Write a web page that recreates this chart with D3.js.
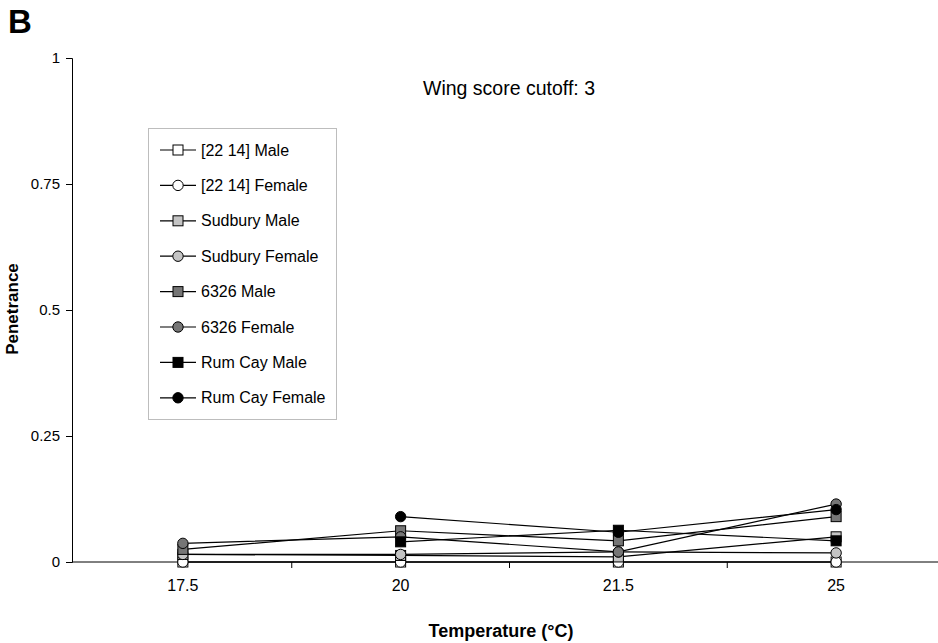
<!DOCTYPE html>
<html>
<head>
<meta charset="utf-8">
<script src="https://cdn.jsdelivr.net/npm/d3@7"></script>
<style>
  html, body { margin: 0; padding: 0; background: #fff; }
  svg { display: block; font-family: "Liberation Sans", Arial, sans-serif; }
</style>
</head>
<body>
<svg id="chart" width="938" height="643"></svg>
<script>
// Temperature categories and penetrance per line/sex (null = not measured)
const temps = ["17.5", "20", "21.5", "25"];
const male2214     = [0, 0, 0, 0];
const female2214   = [0, 0, 0, 0];
const sudburyMale  = [0.015, 0.013, 0.01, 0.05];
const sudburyFemale= [0.015, 0.015, 0.02, 0.018];
const male6326     = [0.025, 0.062, 0.042, 0.09];
const female6326   = [0.037, 0.05, 0.02, 0.115];
const rumCayMale   = [null, 0.04, 0.063, 0.042];
const rumCayFemale = [null, 0.09, 0.059, 0.104];
const yTicks = [0, 0.25, 0.5, 0.75, 1];
const yTickLabels = ["0", "0.25", "0.5", "0.75", "1"];

const series = [
  { name: "[22 14] Male",     values: male2214,      shape: "square", fill: "#ffffff" },
  { name: "[22 14] Female",   values: female2214,    shape: "circle", fill: "#ffffff" },
  { name: "Sudbury Male",     values: sudburyMale,   shape: "square", fill: "#c4c4c4" },
  { name: "Sudbury Female",   values: sudburyFemale, shape: "circle", fill: "#c4c4c4" },
  { name: "6326 Male",        values: male6326,      shape: "square", fill: "#767676" },
  { name: "6326 Female",      values: female6326,    shape: "circle", fill: "#767676" },
  { name: "Rum Cay Male",     values: rumCayMale,    shape: "square", fill: "#000000" },
  { name: "Rum Cay Female",   values: rumCayFemale,  shape: "circle", fill: "#000000" }
];

const svg = d3.select("#chart");
const axisLeftX = 72;
const x = d3.scaleBand().domain(temps).range([74, 945]);
const y = d3.scaleLinear().domain([0, 1]).range([562, 58]);

function drawMarker(g, shape, fill) {
  if (shape === "square") {
    g.append("rect").attr("x", -5).attr("y", -5).attr("width", 10).attr("height", 10)
      .attr("fill", fill).attr("stroke", "#000").attr("stroke-width", 1);
  } else {
    g.append("circle").attr("r", 5.2)
      .attr("fill", fill).attr("stroke", "#000").attr("stroke-width", 1);
  }
}

// Panel letter
svg.append("text").attr("x", 8).attr("y", 33)
  .attr("font-size", 33).attr("font-weight", "bold").text("B");

// Y axis
const yAxis = svg.append("g").attr("transform", `translate(${axisLeftX},0)`)
  .call(d3.axisLeft(y).tickValues(yTicks)
    .tickFormat((d, i) => yTickLabels[i]).tickSize(6).tickPadding(6));
yAxis.select(".domain").attr("stroke", "#000");
yAxis.selectAll(".tick line").attr("stroke", "#000");
yAxis.selectAll(".tick text").attr("font-size", 15).attr("fill", "#000")
  .attr("font-family", "Liberation Sans, Arial, sans-serif");

// X axis: category labels at band centres, ticks at band boundaries
const xAxisG = svg.append("g");
xAxisG.append("line").attr("x1", axisLeftX).attr("x2", 945)
  .attr("y1", y(0)).attr("y2", y(0)).attr("stroke", "#000");
const boundaries = temps.slice(1).map(t => x(t));
xAxisG.selectAll("line.tick").data(boundaries).enter().append("line")
  .attr("class", "tick")
  .attr("x1", d => d).attr("x2", d => d)
  .attr("y1", y(0)).attr("y2", y(0) + 6).attr("stroke", "#000");
xAxisG.selectAll("text").data(temps).enter().append("text")
  .attr("x", d => x(d) + x.bandwidth() / 2).attr("y", 591)
  .attr("text-anchor", "middle").attr("font-size", 16).text(d => d);

// Axis titles
svg.append("text").attr("x", 501).attr("y", 637).attr("text-anchor", "middle")
  .attr("font-size", 18).attr("font-weight", "bold").text("Temperature (°C)");
svg.append("text").attr("transform", "translate(18,309) rotate(-90)")
  .attr("text-anchor", "middle").attr("font-size", 17).attr("font-weight", "bold")
  .text("Penetrance");

// Annotation
svg.append("text").attr("x", 509).attr("y", 95).attr("text-anchor", "middle")
  .attr("font-size", 19.5).text("Wing score cutoff: 3");

// Series lines and markers
const cx = t => x(t) + x.bandwidth() / 2;
const line = d3.line()
  .defined(d => d.v !== null)
  .x(d => cx(d.t)).y(d => y(d.v));

series.forEach(s => {
  const pts = temps.map((t, i) => ({ t, v: s.values[i] }));
  svg.append("path").datum(pts).attr("d", line)
    .attr("fill", "none").attr("stroke", "#000").attr("stroke-width", 1.2);
});
series.forEach(s => {
  temps.forEach((t, i) => {
    const v = s.values[i];
    if (v === null) return;
    const g = svg.append("g").attr("transform", `translate(${cx(t)},${y(v)})`);
    drawMarker(g, s.shape, s.fill);
  });
});

// Legend
const legend = svg.append("g");
legend.append("rect").attr("x", 148.5).attr("y", 128.5).attr("width", 188).attr("height", 291)
  .attr("fill", "#fff").attr("stroke", "#bdbdbd").attr("stroke-width", 1);
series.forEach((s, i) => {
  const ly = 150 + i * 35.4;
  const row = legend.append("g").attr("transform", `translate(0,${ly})`);
  row.append("line").attr("x1", 160).attr("x2", 196).attr("y1", 0).attr("y2", 0)
    .attr("stroke", "#000").attr("stroke-width", 1.2);
  drawMarker(row.append("g").attr("transform", "translate(178,0)"), s.shape, s.fill);
  row.append("text").attr("x", 201).attr("y", 5.5).attr("font-size", 16).text(s.name);
});
</script>
</body>
</html>
